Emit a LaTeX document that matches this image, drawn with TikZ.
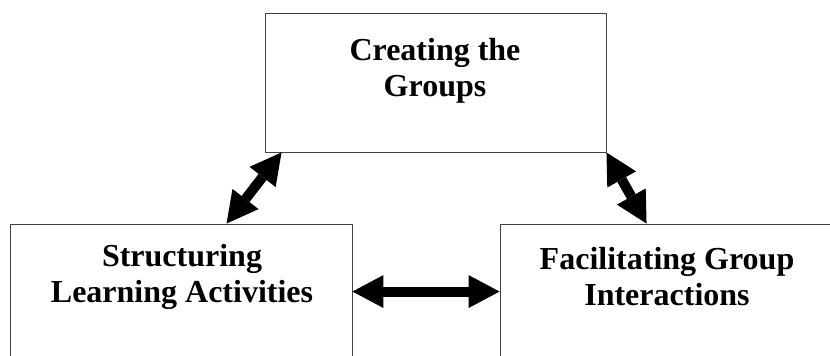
\documentclass[tikz,border=0pt]{standalone}
\usepackage{fontspec}
\setmainfont{Liberation Serif}
\usetikzlibrary{arrows.meta}
\begin{document}
\begin{tikzpicture}[x=1pt,y=1pt,line join=round,
  box/.style={draw=black!75,line width=0.9pt,inner sep=0pt},
  lbl/.style={font=\fontsize{32}{36}\selectfont\bfseries,align=center,inner sep=0pt},
  dbl/.style={line width=10pt,{Triangle[length=31pt,width=33pt,line width=0pt]}-{Triangle[length=31pt,width=33pt,line width=0pt]}}]
\useasboundingbox (0,0) rectangle (830,356);
\clip (0,0) rectangle (830,356);
% the three boxes
\node[box,minimum width=341,minimum height=139] (top) at (435.5,273.5) {};
\node[box,minimum width=342,minimum height=172] (left) at (181,46) {};
\node[box,minimum width=334,minimum height=172] (right) at (667,46) {};
\node[lbl] (topText) at (435,285) {Creating the\\Groups};
\node[lbl] (leftText) at (182,79) {Structuring\\Learning Activities};
\node[lbl] (rightText) at (667,79) {Facilitating Group\\Interactions};
% arrow ends
\path (top.south west) ++(17,0) coordinate (tl);
\path (left.north west) ++(217,0) coordinate (lt);
\path (top.south east) coordinate (tr);
\path (right.north west) ++(147,0) coordinate (rt);
\path (left.north east) ++(0,-68) coordinate (lr);
\path (right.north west) ++(0,-68) coordinate (rl);
\draw[dbl] (lt)--(tl);
\draw[dbl] (tr)--(rt);
\draw[dbl] (lr)--(rl);
\end{tikzpicture}
\end{document}
